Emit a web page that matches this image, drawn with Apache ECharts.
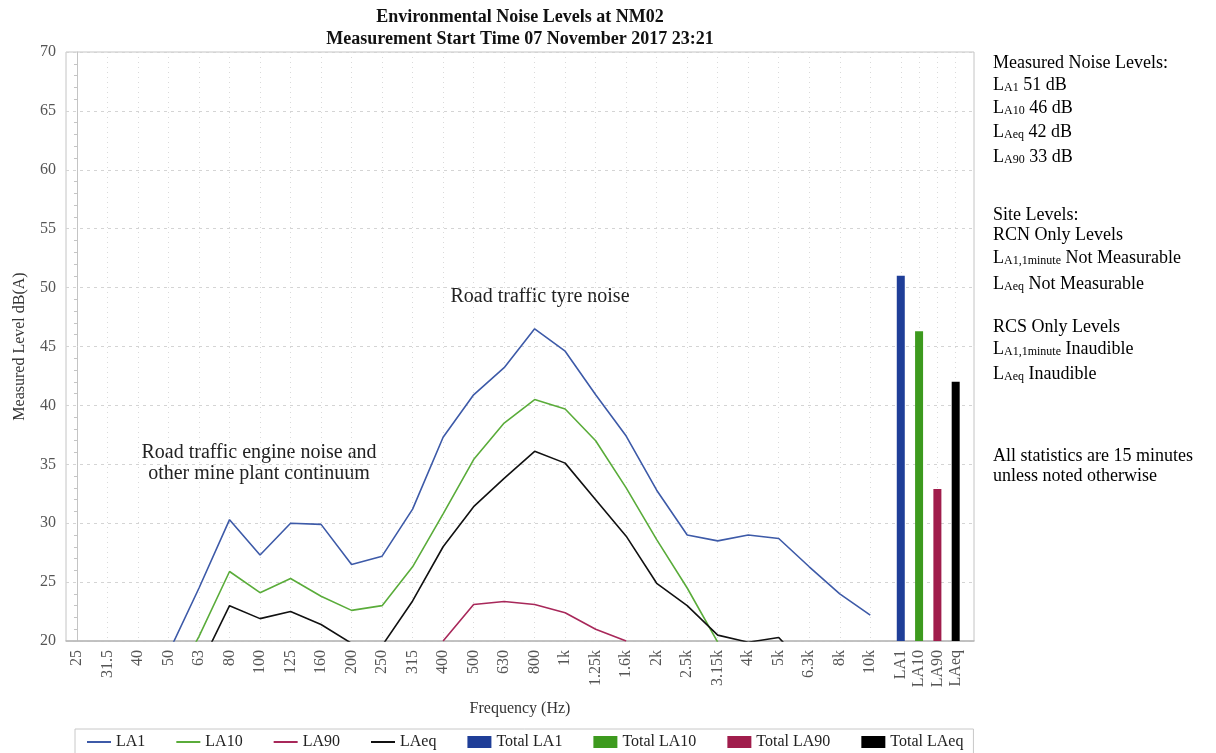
<!DOCTYPE html>
<html>
<head>
    <meta charset="utf-8">
    <title>Environmental Noise Levels at NM02</title>
    <script src="https://cdn.jsdelivr.net/npm/echarts@6/dist/echarts.min.js"></script>
    <style>
        html, body { margin: 0; padding: 0; background: #fff; }
        #chart { width: 1216px; height: 753px; }
    </style>
</head>
<body>
    <div id="chart"></div>
    <script type="text/javascript">
        // third-octave bands (Hz)
        const bands = ['25', '31.5', '40', '50', '63', '80', '100', '125', '160', '200', '250', '315', '400',
            '500', '630', '800', '1k', '1.25k', '1.6k', '2k', '2.5k', '3.15k', '4k', '5k', '6.3k', '8k', '10k'];
        // spectra, dB(A) -- null where the curve is off the bottom of the chart
        const la1 = [null, null, null, 19.0, 24.5, 30.3, 27.3, 30.0, 29.9, 26.5, 27.2, 31.2, 37.3,
            40.9, 43.2, 46.5, 44.6, 40.9, 37.4, 32.8, 29.0, 28.5, 29.0, 28.7, 26.3, 24.0, 22.2];
        const la10 = [null, null, null, 15.5, 20.4, 25.9, 24.1, 25.3, 23.8, 22.6, 23.0, 26.3, 30.8,
            35.4, 38.5, 40.5, 39.7, 37.0, 33.0, 28.6, 24.5, 19.9, null, null, null, null, null];
        const la90 = [null, null, null, null, null, null, null, null, null, null, null, null, 20.0,
            23.1, 23.35, 23.1, 22.4, 21.0, 20.0, null, null, null, null, null, null, null, null];
        const laeq = [null, null, null, null, 17.7, 23.0, 21.9, 22.5, 21.4, 19.8, 19.6, 23.4, 28.0,
            31.4, 33.8, 36.1, 35.1, 32.0, 28.9, 24.9, 23.0, 20.5, 19.9, 20.3, 17.5, null, null];
        // overall levels
        const totalNames = ['LA1', 'LA10', 'LA90', 'LAeq'];
        const totals = [51.0, 46.3, 32.9, 42.0];

        const FONT = "'Liberation Serif', 'DejaVu Serif', serif";
        const lineColors = ['#3d5aa8', '#5aac3a', '#a8285a', '#111111'];
        const barColors = ['#1f3e98', '#3d9a1e', '#a01d4c', '#000000'];

        // x positions: bands at 0..26, overall bars squeezed in after
        const totalPos = totalNames.map((n, k) => +(27 + 0.6 * k).toFixed(1));
        const tickVals = bands.map((b, i) => i).concat(totalPos);
        const tickLabels = bands.concat(totalNames);

        function toPairs(arr) {
            return arr.map((v, i) => [i, v]);
        }

        const lineSeries = [['LA1', la1], ['LA10', la10], ['LA90', la90], ['LAeq', laeq]].map((s, k) => ({
            name: s[0],
            type: 'line',
            data: toPairs(s[1]),
            symbol: 'none',
            clip: true,
            lineStyle: { width: 1.6, color: lineColors[k] },
            itemStyle: { color: lineColors[k] }
        }));

        const barSeries = totalNames.map((n, k) => ({
            name: 'Total ' + n,
            type: 'bar',
            data: [[totalPos[k], totals[k]]],
            barWidth: 8,
            barGap: '-100%',
            itemStyle: { color: barColors[k] }
        }));

        // right-hand notes
        const sub = (a, b, rest) => '{n|' + a + '}{s|' + b + '}{n| ' + rest + '}';
        const notes = [
            ['{n|Measured Noise Levels:}', 61],
            [sub('L', 'A1', Math.round(totals[0]) + ' dB'), 83],
            [sub('L', 'A10', Math.round(totals[1]) + ' dB'), 106],
            [sub('L', 'Aeq', Math.round(totals[3]) + ' dB'), 130],
            [sub('L', 'A90', Math.round(totals[2]) + ' dB'), 155],
            ['{n|Site Levels:}', 213],
            ['{n|RCN Only Levels}', 233],
            [sub('L', 'A1,1minute', 'Not Measurable'), 256],
            [sub('L', 'Aeq', 'Not Measurable'), 282],
            ['{n|RCS Only Levels}', 325],
            [sub('L', 'A1,1minute', 'Inaudible'), 347],
            [sub('L', 'Aeq', 'Inaudible'), 372],
            ['{n|All statistics are 15 minutes}', 454],
            ['{n|unless noted otherwise}', 474]
        ];
        const noteRich = {
            n: { fontFamily: FONT, fontSize: 18, lineHeight: 22, color: '#222', verticalAlign: 'bottom' },
            s: { fontFamily: FONT, fontSize: 12, lineHeight: 12, color: '#222', verticalAlign: 'bottom' }
        };

        const graphics = notes.map(n => ({
            type: 'text',
            x: 993,
            y: n[1],
            style: {
                text: n[0],
                rich: noteRich,
                align: 'left',
                verticalAlign: 'middle'
            }
        }));

        graphics.push({
            type: 'text', x: 520, y: 28,
            style: {
                text: 'Environmental Noise Levels at NM02\nMeasurement Start Time 07 November 2017 23:21',
                font: 'bold 18px ' + FONT, fill: '#111', lineHeight: 22,
                align: 'center', verticalAlign: 'middle'
            }
        });
        graphics.push({
            type: 'text', x: 259, y: 463,
            style: {
                text: 'Road traffic engine noise and\nother mine plant continuum',
                font: '20px ' + FONT, fill: '#222', lineHeight: 21,
                align: 'center', verticalAlign: 'middle'
            }
        });
        graphics.push({
            type: 'text', x: 540, y: 297,
            style: {
                text: 'Road traffic tyre noise',
                font: '20px ' + FONT, fill: '#222',
                align: 'center', verticalAlign: 'middle'
            }
        });

        const lineIcon = 'path://M0,0H24V2H0Z';

        const chart = echarts.init(document.getElementById('chart'));
        const option = {
            animation: false,
            textStyle: { fontFamily: FONT },
            grid: {
                left: 66, right: 242, top: 52, bottom: 112,
                show: true, borderColor: '#c4c4c4', borderWidth: 1
            },
            legend: {
                left: 75, top: 729,
                padding: [5, 10, 8, 12],
                borderColor: '#c8c8c8', borderWidth: 1,
                itemWidth: 24, itemHeight: 12, itemGap: 31,
                textStyle: { fontFamily: FONT, fontSize: 16, color: '#222' },
                data: [
                    { name: 'LA1', icon: lineIcon }, { name: 'LA10', icon: lineIcon },
                    { name: 'LA90', icon: lineIcon }, { name: 'LAeq', icon: lineIcon },
                    { name: 'Total LA1', icon: 'rect' }, { name: 'Total LA10', icon: 'rect' },
                    { name: 'Total LA90', icon: 'rect' }, { name: 'Total LAeq', icon: 'rect' }
                ]
            },
            xAxis: {
                type: 'value',
                min: -0.36,
                max: 29.4,
                name: 'Frequency (Hz)',
                nameLocation: 'middle',
                nameGap: 60,
                nameTextStyle: { fontFamily: FONT, fontSize: 16, color: '#333' },
                axisLine: { lineStyle: { color: '#b8b8b8', width: 1.5 } },
                axisTick: { show: false, customValues: tickVals },
                axisLabel: {
                    customValues: tickVals,
                    rotate: 90,
                    margin: 9,
                    fontSize: 16,
                    color: '#555',
                    formatter: function (v) {
                        const i = tickVals.findIndex(t => Math.abs(t - v) < 1e-6);
                        return i >= 0 ? tickLabels[i] : '';
                    }
                },
                splitLine: { show: true, lineStyle: { color: '#dadada', type: [1, 4] } }
            },
            yAxis: {
                type: 'value',
                min: 20,
                max: 70,
                interval: 5,
                name: 'Measured Level dB(A)',
                nameLocation: 'middle',
                nameGap: 38,
                nameTextStyle: { fontFamily: FONT, fontSize: 16, color: '#333' },
                axisLine: { show: true, lineStyle: { color: '#c4c4c4' } },
                axisTick: { show: false },
                minorTick: { show: true, splitNumber: 5, length: 3, lineStyle: { color: '#c4c4c4' } },
                axisLabel: { fontSize: 16, color: '#555', margin: 10 },
                splitLine: { show: true, lineStyle: { color: '#d4d4d4', type: [3, 4] } }
            },
            series: lineSeries.concat(barSeries),
            graphic: graphics
        };
        chart.setOption(option);

        window.addEventListener('resize', function () {
            chart.resize();
        });
    </script>
</body>
</html>
